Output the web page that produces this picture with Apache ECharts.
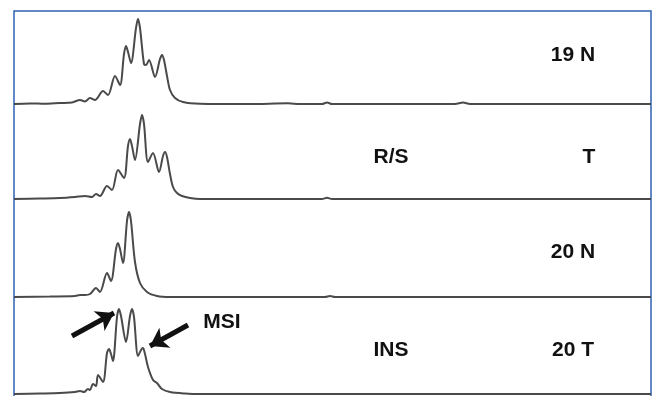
<!DOCTYPE html>
<html>
<head>
<meta charset="utf-8">
<script src="https://cdn.jsdelivr.net/npm/echarts@6/dist/echarts.min.js"></script>
<style>
  html, body { margin: 0; padding: 0; background: #fff; }
  #chart { width: 655px; height: 396px; }
</style>
</head>
<body>
<div id="chart"></div>
<script>
// scan position vs. signal, one trace per sample
const trace19N = [
  [14, 0], [30, 0.6], [45, 0.2], [60, 1], [72, 1.5], [80, 4], [85, 2.5], [90, 6], [95, 4],
  [103, 13], [108, 9], [115, 28], [120, 19], [124, 50], [126, 58], [128, 52], [131, 41],
  [136, 76], [138, 85], [140, 76], [144, 40], [146, 39], [149, 44], [155, 27], [160, 45],
  [162, 49], [164, 44], [167, 28], [170, 14], [175, 6], [183, 2], [200, 0.3],
  [250, 0], [288, 0.7], [300, 0], [322, 0], [327, 1.5], [332, 0], [455, 0], [463, 1.5],
  [470, 0], [651, 0]
];
const traceRS = [
  [14, 0], [40, 0.5], [60, 1], [75, 2], [85, 3], [92, 2], [96, 5], [100, 3], [107, 13],
  [112, 9], [118, 29], [124, 21], [128, 53], [130, 60], [132, 53], [135, 39], [140, 75],
  [142, 84], [144, 75], [148, 37], [153, 46], [159, 27], [163, 43], [165, 47], [167, 42],
  [170, 25], [173, 12], [177, 6], [182, 3], [190, 1], [200, 0],
  [322, 0], [327, 1.2], [332, 0], [651, 0]
];
const trace20N = [
  [14, 0], [50, 0.5], [75, 1], [80, 2], [85, 2], [90, 3], [96, 9], [100, 5], [107, 24],
  [111, 16], [116, 48], [118, 54], [120, 48], [123, 34], [127, 76], [129, 85], [131, 76],
  [135, 35], [140, 14], [147, 5], [157, 1], [170, 0], [325, 0], [330, 1], [335, 0], [651, 0]
];
const traceINS = [
  [14, 0], [40, 0.5], [60, 1], [75, 2], [80, 3], [84, 2], [88, 5], [90, 4], [93, 10],
  [96, 8], [98, 19], [103, 12], [107, 41], [109, 45], [111, 40], [113, 33], [117, 77],
  [119, 85], [121, 78], [126, 52], [130, 78], [132, 85], [134, 77], [138, 38], [141, 44],
  [143, 46], [145, 40], [148, 27], [153, 14], [157, 11], [162, 5], [170, 2], [185, 0.5],
  [200, 0], [651, 0]
];
const traces = [trace19N, traceRS, trace20N, traceINS];

const sampleLabels = ['19 N', 'T', '20 N', '20 T'];
const groupLabels = ['', 'R/S', '', 'INS'];

// MSI arrows (start, end) in the INS trace's coordinates
const msiArrows = [
  [[72, 58], [114, 81]],
  [[188, 69], [150, 48]]
];

const panels = [
  { top: 11, height: 93 },
  { top: 104, height: 95 },
  { top: 199, height: 98 },
  { top: 297, height: 97 }
];

const chart = echarts.init(document.getElementById('chart'));

const grid = panels.map(p => ({ left: 14, right: 4, top: p.top, height: p.height }));
const xAxis = panels.map((p, i) => ({
  type: 'value', gridIndex: i, min: 14, max: 651, show: false
}));
const yAxis = panels.map((p, i) => ({
  type: 'value', gridIndex: i, min: 0, max: p.height, show: false
}));

const series = traces.map((d, i) => ({
  type: 'line',
  xAxisIndex: i,
  yAxisIndex: i,
  data: d,
  showSymbol: false,
  smooth: 0.3,
  lineStyle: { color: '#4a4a4a', width: 2 },
  silent: true
}));

series[3].markLine = {
  silent: true,
  symbol: ['none', 'arrow'],
  symbolSize: [17, 17],
  label: { show: false },
  lineStyle: { color: '#111', width: 5, type: 'solid', opacity: 1 },
  data: msiArrows.map(a => [{ coord: a[0] }, { coord: a[1] }])
};

const txt = (x, y, s) => ({
  type: 'text', x: x, y: y,
  style: {
    text: s, fill: '#111', font: 'bold 21px "Liberation Sans", Arial, sans-serif',
    textAlign: 'center', textVerticalAlign: 'middle'
  }
});

const labelY = [55, 157, 252, 350];
const graphic = [
  {
    type: 'rect', shape: { x: 14, y: 11, width: 637, height: 400 },
    style: { fill: 'none', stroke: '#2f63b3', lineWidth: 1.5 }
  }
];
sampleLabels.forEach((s, i) => graphic.push(txt(s === 'T' ? 589 : 573, labelY[i], s)));
groupLabels.forEach((s, i) => { if (s) graphic.push(txt(391, labelY[i], s)); });
graphic.push(txt(222, 322, 'MSI'));

chart.setOption({
  animation: false,
  grid: grid,
  xAxis: xAxis,
  yAxis: yAxis,
  series: series,
  graphic: graphic
});
</script>
</body>
</html>
